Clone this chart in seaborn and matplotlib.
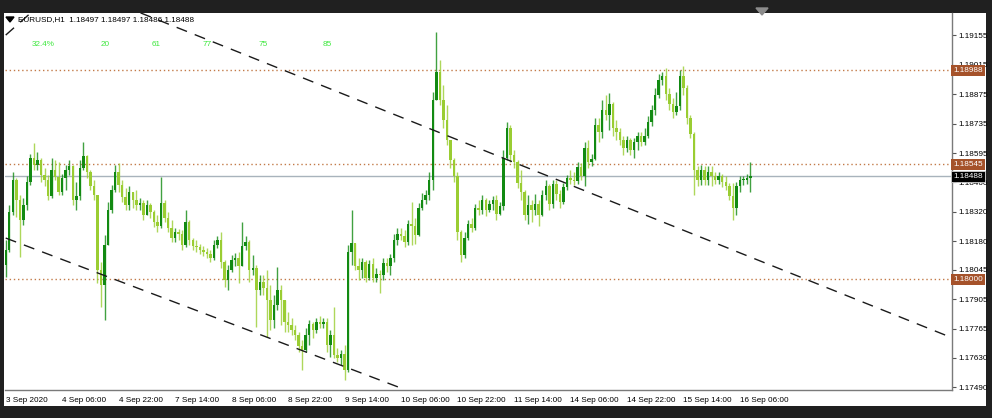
import numpy as np
import pandas as pd
import seaborn as sns
import matplotlib
matplotlib.use("Agg")
import matplotlib.pyplot as plt
from matplotlib.patches import Rectangle, Polygon

# EURUSD H1 bars, 3 Sep 14:00 .. 16 Sep 09:00 (open of each bar = previous close)
first_open = 1.18067
close = [
    1.18139, 1.18318, 1.18470, 1.18375, 1.18280, 1.18351, 1.18460, 1.18574, 1.18541, 1.18564,
    1.18493, 1.18470, 1.18394, 1.18517, 1.18484, 1.18413, 1.18479, 1.18517, 1.18536, 1.18375,
    1.18394, 1.18526, 1.18583, 1.18507, 1.18441, 1.18399, 1.18044, 1.17973, 1.18162, 1.18328,
    1.18422, 1.18507, 1.18446, 1.18389, 1.18351, 1.18413, 1.18375, 1.18351, 1.18361, 1.18304,
    1.18351, 1.18318, 1.18271, 1.18252, 1.18361, 1.18290, 1.18243, 1.18195, 1.18224, 1.18214,
    1.18162, 1.18271, 1.18186, 1.18157, 1.18153, 1.18139, 1.18129, 1.18120, 1.18101, 1.18162,
    1.18186, 1.18082, 1.17997, 1.18044, 1.18091, 1.18101, 1.18063, 1.18157, 1.18176, 1.18044,
    1.18053, 1.17949, 1.17987, 1.17959, 1.17902, 1.17807, 1.17878, 1.17949, 1.17902, 1.17798,
    1.17784, 1.17760, 1.17736, 1.17684, 1.17666, 1.17736, 1.17789, 1.17760, 1.17798, 1.17789,
    1.17798, 1.17689, 1.17736, 1.17642, 1.17628, 1.17647, 1.17571, 1.18129, 1.18172, 1.18063,
    1.18044, 1.18082, 1.18006, 1.18072, 1.18006, 1.18025, 1.18020, 1.18077, 1.18063, 1.18101,
    1.18186, 1.18214, 1.18205, 1.18176, 1.18262, 1.18252, 1.18209, 1.18337, 1.18375, 1.18399,
    1.18470, 1.18848, 1.18980, 1.18848, 1.18753, 1.18659, 1.18564, 1.18489, 1.18224, 1.18115,
    1.18195, 1.18262, 1.18243, 1.18337, 1.18328, 1.18375, 1.18328, 1.18356, 1.18375, 1.18309,
    1.18347, 1.18574, 1.18716, 1.18588, 1.18555, 1.18455, 1.18413, 1.18304, 1.18351, 1.18328,
    1.18356, 1.18304, 1.18399, 1.18441, 1.18356, 1.18451, 1.18403, 1.18366, 1.18437, 1.18479,
    1.18470, 1.18465, 1.18531, 1.18489, 1.18621, 1.18555, 1.18569, 1.18730, 1.18697, 1.18801,
    1.18777, 1.18829, 1.18716, 1.18697, 1.18659, 1.18621, 1.18659, 1.18612, 1.18649, 1.18678,
    1.18649, 1.18678, 1.18744, 1.18801, 1.18872, 1.18943, 1.18962, 1.18876, 1.18829, 1.18791,
    1.18820, 1.18962, 1.18905, 1.18763, 1.18687, 1.18517, 1.18470, 1.18517, 1.18470, 1.18507,
    1.18489, 1.18470, 1.18489, 1.18460, 1.18441, 1.18394, 1.18337, 1.18441, 1.18470, 1.18470,
    1.18479, 1.18488,
]
high = [
    1.18186, 1.18351, 1.18507, 1.18479, 1.18399, 1.18385, 1.18489, 1.18593, 1.18645, 1.18602,
    1.18574, 1.18526, 1.18493, 1.18574, 1.18564, 1.18555, 1.18498, 1.18541, 1.18564, 1.18541,
    1.18460, 1.18564, 1.18649, 1.18588, 1.18517, 1.18470, 1.18399, 1.18082, 1.18209, 1.18366,
    1.18446, 1.18541, 1.18550, 1.18470, 1.18432, 1.18441, 1.18413, 1.18422, 1.18385, 1.18375,
    1.18375, 1.18361, 1.18328, 1.18304, 1.18484, 1.18375, 1.18318, 1.18280, 1.18243, 1.18238,
    1.18233, 1.18328, 1.18280, 1.18195, 1.18186, 1.18167, 1.18157, 1.18148, 1.18139, 1.18186,
    1.18205, 1.18224, 1.18091, 1.18068, 1.18115, 1.18124, 1.18129, 1.18271, 1.18205, 1.18186,
    1.18115, 1.18068, 1.18020, 1.18020, 1.18044, 1.17973, 1.17926, 1.18058, 1.17973, 1.17902,
    1.17845, 1.17817, 1.17784, 1.17751, 1.17713, 1.17770, 1.17807, 1.17798, 1.17817, 1.17826,
    1.17817, 1.17817, 1.17760, 1.17869, 1.17675, 1.17666, 1.17689, 1.18162, 1.18328, 1.18172,
    1.18101, 1.18101, 1.18091, 1.18091, 1.18101, 1.18053, 1.18044, 1.18101, 1.18101, 1.18120,
    1.18214, 1.18243, 1.18243, 1.18233, 1.18280, 1.18366, 1.18290, 1.18361, 1.18408, 1.18422,
    1.18507, 1.18886, 1.19170, 1.19037, 1.18919, 1.18824, 1.18659, 1.18574, 1.18507, 1.18233,
    1.18224, 1.18280, 1.18290, 1.18356, 1.18375, 1.18399, 1.18385, 1.18375, 1.18394, 1.18399,
    1.18366, 1.18612, 1.18744, 1.18730, 1.18612, 1.18564, 1.18517, 1.18422, 1.18399, 1.18375,
    1.18403, 1.18375, 1.18422, 1.18470, 1.18451, 1.18470, 1.18470, 1.18422, 1.18455, 1.18493,
    1.18517, 1.18507, 1.18555, 1.18550, 1.18649, 1.18659, 1.18593, 1.18763, 1.18763, 1.18848,
    1.18872, 1.18881, 1.18839, 1.18753, 1.18716, 1.18678, 1.18678, 1.18668, 1.18668, 1.18697,
    1.18697, 1.18716, 1.18772, 1.18824, 1.18905, 1.18971, 1.18980, 1.18999, 1.18905, 1.18858,
    1.18886, 1.18990, 1.19009, 1.18919, 1.18777, 1.18697, 1.18536, 1.18541, 1.18536, 1.18536,
    1.18536, 1.18507, 1.18507, 1.18498, 1.18489, 1.18455, 1.18455, 1.18460, 1.18489, 1.18489,
    1.18498, 1.18555,
]
low = [
    1.18011, 1.18129, 1.18304, 1.18295, 1.18105, 1.18257, 1.18328, 1.18446, 1.18517, 1.18517,
    1.18460, 1.18441, 1.18375, 1.18385, 1.18470, 1.18399, 1.18399, 1.18422, 1.18493, 1.18351,
    1.18328, 1.18375, 1.18517, 1.18479, 1.18422, 1.18375, 1.17982, 1.17869, 1.17807, 1.18186,
    1.18314, 1.18413, 1.18413, 1.18366, 1.18328, 1.18328, 1.18337, 1.18328, 1.18328, 1.18280,
    1.18304, 1.18290, 1.18247, 1.18224, 1.18243, 1.18271, 1.18224, 1.18176, 1.18176, 1.18186,
    1.18139, 1.18153, 1.18162, 1.18139, 1.18129, 1.18120, 1.18110, 1.18101, 1.18082, 1.18091,
    1.18148, 1.18053, 1.17964, 1.17949, 1.18034, 1.18063, 1.17982, 1.18082, 1.18139, 1.17987,
    1.18020, 1.17774, 1.17926, 1.17926, 1.17727, 1.17760, 1.17770, 1.17855, 1.17784, 1.17751,
    1.17751, 1.17736, 1.17713, 1.17656, 1.17571, 1.17656, 1.17689, 1.17722, 1.17746, 1.17770,
    1.17770, 1.17656, 1.17632, 1.17628, 1.17609, 1.17595, 1.17524, 1.17561, 1.18068, 1.18044,
    1.17997, 1.18006, 1.17987, 1.17997, 1.17987, 1.17987, 1.17935, 1.17997, 1.18034, 1.18020,
    1.18082, 1.18162, 1.18186, 1.18153, 1.18162, 1.18162, 1.18167, 1.18205, 1.18328, 1.18356,
    1.18375, 1.18422, 1.18858, 1.18824, 1.18716, 1.18635, 1.18526, 1.18460, 1.18186, 1.18082,
    1.18101, 1.18186, 1.18224, 1.18233, 1.18304, 1.18309, 1.18299, 1.18318, 1.18328, 1.18280,
    1.18304, 1.18328, 1.18564, 1.18555, 1.18526, 1.18432, 1.18375, 1.18280, 1.18262, 1.18271,
    1.18304, 1.18252, 1.18299, 1.18375, 1.18328, 1.18337, 1.18375, 1.18337, 1.18356, 1.18422,
    1.18451, 1.18446, 1.18451, 1.18470, 1.18441, 1.18526, 1.18536, 1.18564, 1.18649, 1.18668,
    1.18753, 1.18706, 1.18678, 1.18659, 1.18635, 1.18588, 1.18602, 1.18588, 1.18574, 1.18612,
    1.18630, 1.18635, 1.18668, 1.18725, 1.18777, 1.18858, 1.18919, 1.18848, 1.18801, 1.18763,
    1.18777, 1.18801, 1.18872, 1.18735, 1.18668, 1.18399, 1.18441, 1.18446, 1.18446, 1.18446,
    1.18441, 1.18451, 1.18451, 1.18437, 1.18422, 1.18375, 1.18280, 1.18304, 1.18413, 1.18446,
    1.18451, 1.18413,
]

time_labels = ["3 Sep 2020", "4 Sep 06:00", "4 Sep 22:00", "7 Sep 14:00", "8 Sep 06:00",
               "8 Sep 22:00", "9 Sep 14:00", "10 Sep 06:00", "10 Sep 22:00", "11 Sep 14:00",
               "14 Sep 06:00", "14 Sep 22:00", "15 Sep 14:00", "16 Sep 06:00"]
price_ticks = [1.19155, 1.19015, 1.18875, 1.18735, 1.18595, 1.18460, 1.18320,
               1.18180, 1.18045, 1.17905, 1.17765, 1.17630, 1.17490]
levels = [1.18988, 1.18545, 1.18000]
last_price = 1.18488
# trend lines as (bar, price) pairs
trend_lines = [((0.0, 1.19155), (7.1, 1.19260)),
               ((38.2, 1.19260), (268.3, 1.17722)),
               ((0.0, 1.18195), (111.9, 1.17486))]
header = "EURUSD,H1  1.18497 1.18497 1.18486 1.18488"
stats = ["32.4%", "20", "61", "77", "75", "85"]
stats_x = [32, 101, 152, 203, 259, 323]

W, H = 992, 418
def fx(px):
    return px / W
def fy(py):
    return 1 - py / H

sns.set_style("white")
plt.rcParams["font.family"] = ["Liberation Sans", "DejaVu Sans"]
FS = 5.9

df = pd.DataFrame({"close": close, "high": high, "low": low})
df["open"] = [first_open] + close[:-1]
df["high"] = df[["high", "open", "close"]].max(axis=1)
df["low"] = df[["low", "open", "close"]].min(axis=1)
df["bar"] = np.arange(len(df))

fig = plt.figure(figsize=(W / 100, H / 100), dpi=100, facecolor="#202020")
fig.add_artist(Rectangle((fx(4), fy(406)), fx(982), 393 / H, transform=fig.transFigure,
                         facecolor="white", edgecolor="none", zorder=-10))
ax = fig.add_axes([fx(5), fy(390), fx(947), 377 / H])
ax.set_facecolor("white")

up = df["close"] >= df["open"]
colors = np.where(up, "#128a12", "#9acd32")
ax.vlines(df["bar"], df["low"], df["high"], colors=colors, lw=1.0, alpha=0.8, zorder=3)
body = (df["close"] - df["open"]).abs().clip(lower=0.000035)
ax.bar(df["bar"], body, bottom=df[["open", "close"]].min(axis=1), width=0.7,
       color=colors, linewidth=0, zorder=4)

for lv in levels:
    ax.axhline(lv, color="#c27a48", lw=1.0, ls=(0, (1, 2)), zorder=2)
ax.axhline(last_price, color="#a8b3bc", lw=1.0, zorder=2)

for (x0, y0), (x1, y1) in trend_lines:
    ax.plot([x0, x1], [y0, y1], color="#1a1a1a", lw=1.0, ls=(0, (8, 6)), zorder=5)

ax.set_xlim(-0.2, 268.1)
ax.set_ylim(1.174763, 1.192595)

ax.set_xticks(np.arange(len(time_labels)) * 16)
ax.set_xticklabels(time_labels, ha="left")
ax.yaxis.tick_right()
ax.set_yticks(price_ticks)
ax.set_yticklabels([f"{v:.5f}" for v in price_ticks])
ax.tick_params(axis="both", labelsize=FS, length=3, width=0.8, color="#555555",
               labelcolor="black", pad=1.5)
ax.tick_params(axis="x", pad=2)

for side in ["left", "top"]:
    ax.spines[side].set_visible(False)
for side in ["right", "bottom"]:
    ax.spines[side].set_color("#7a7a7a")
    ax.spines[side].set_linewidth(1.0)

tr = ax.get_yaxis_transform()
for lv in levels:
    ax.text(1.0015, lv, f"{lv:.5f}", transform=tr, fontsize=FS, color="white",
            va="center", ha="left", clip_on=False, zorder=20,
            bbox=dict(boxstyle="square,pad=0.25", fc="#a5522a", ec="none"))
ax.text(1.0015, last_price, f"{last_price:.5f}", transform=tr, fontsize=FS, color="white",
        va="center", ha="left", clip_on=False, zorder=20,
        bbox=dict(boxstyle="square,pad=0.25", fc="black", ec="#cfcfcf", lw=0.6))

fig.text(fx(18), fy(20), header, fontsize=FS, color="black", va="center", ha="left")
fig.add_artist(Polygon([(fx(6), fy(17)), (fx(14), fy(17)), (fx(10), fy(22))],
                       closed=True, transform=fig.transFigure, color="black"))
for s, px in zip(stats, stats_x):
    fig.text(fx(px), fy(44), s, fontsize=FS, color="#3ee83e", va="center", ha="left")
fig.add_artist(Polygon([(fx(756), fy(8)), (fx(768), fy(8)), (fx(762), fy(15))],
                       closed=True, transform=fig.transFigure, color="#8c8c8c"))

fig.savefig("out.png", dpi=100, facecolor=fig.get_facecolor())
